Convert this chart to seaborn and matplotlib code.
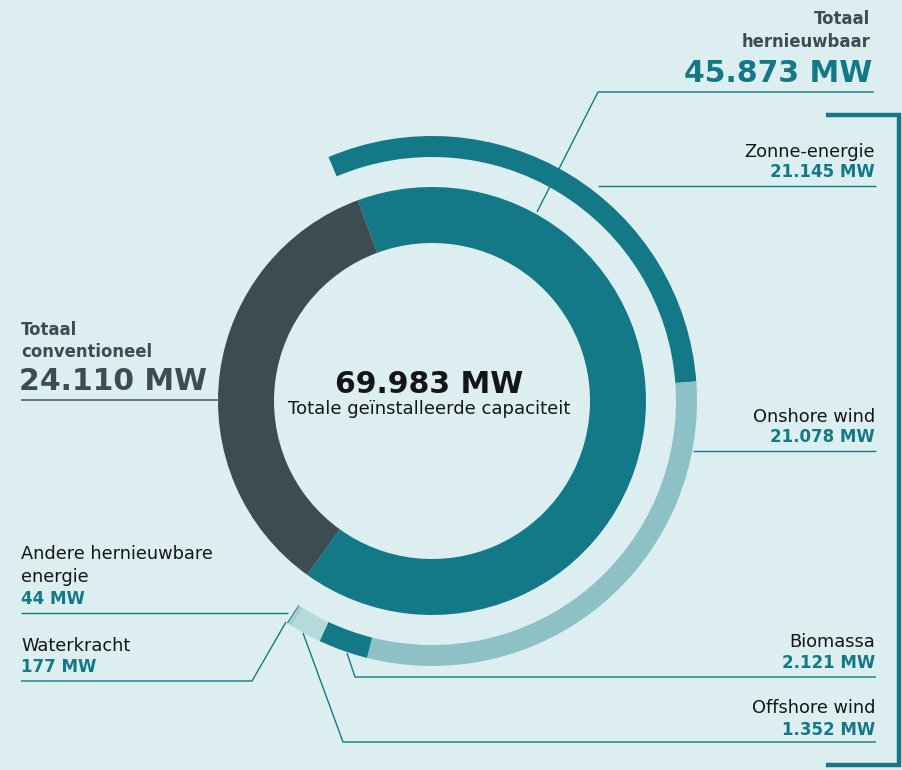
import matplotlib
matplotlib.use("Agg")
import matplotlib.pyplot as plt
import seaborn as sns

# ---------------- data ----------------
inner_categories = ["Totaal hernieuwbaar", "Totaal conventioneel"]
inner_values = [45873, 24110]
total_value = 69983

renewable_sources = ["Zonne-energie", "Onshore wind", "Biomassa",
                     "Offshore wind", "Waterkracht", "Andere hernieuwbare energie"]
renewable_values = [21145, 21078, 2121, 1352, 177, 44]

center_title = "Totale geïnstalleerde capaciteit"

# ---------------- style ----------------
BG = "#ddeef1"
TEAL = "#137986"
GREY = "#3d4b52"
LIGHT = "#8dc1c6"
PALE = "#b4dadc"
WATER = "#a3cfd3"
BLACK = "#151515"

sns.set_theme(style="white", rc={"axes.facecolor": BG, "figure.facecolor": BG})
plt.rcParams["font.family"] = ["DejaVu Sans"]

W, H = 902, 770
fig = plt.figure(figsize=(W / 100, H / 100), dpi=100)
ax = fig.add_axes([0, 0, 1, 1])


def Y(y):
    return H - y


def fmt(v):
    return f"{v:,}".replace(",", ".") + " MW"


CX, CY = 432, 401

# inner donut
inner_colors = sns.color_palette([TEAL, GREY])
ax.pie(inner_values, radius=214, center=(CX, Y(CY)), startangle=110.3,
       counterclock=False, colors=inner_colors,
       wedgeprops=dict(width=56, linewidth=0))

# outer ring (renewables, same angular scale as total)
rest = total_value - sum(renewable_values)
outer_vals = renewable_values + [rest]
outer_colors = [TEAL, LIGHT, TEAL, PALE, WATER, TEAL, (0, 0, 0, 0)]
ax.pie(outer_vals, radius=265, center=(CX, Y(CY)), startangle=113,
       counterclock=False, colors=outer_colors,
       wedgeprops=dict(width=21, linewidth=0))

ax.set_xlim(0, W)
ax.set_ylim(0, H)
ax.set_aspect("equal")
ax.axis("off")

# ---------------- leader lines ----------------
def line(xs, ys, color=TEAL, lw=1.0):
    ax.plot(xs, [Y(v) for v in ys], color=color, lw=lw, solid_capstyle="butt")

line([537, 598, 874], [212, 92, 92])            # totaal hernieuwbaar
line([598, 876], [186, 186])                     # zonne
line([693, 876], [451, 451])                     # onshore
line([347, 355, 876], [653, 677, 677])           # biomassa
line([303, 343, 876], [633, 742, 742])           # offshore
line([21, 288], [613, 613])                      # andere
line([286, 252, 21], [622, 681, 681])            # waterkracht
line([21, 221], [400, 400], color="#4f666e", lw=1.2)  # conventioneel

# bracket on the right
ax.plot([826, 899, 899, 826], [Y(115), Y(115), Y(765), Y(765)],
        color=TEAL, lw=3.2, solid_joinstyle="miter", solid_capstyle="butt")

# ---------------- texts ----------------
RX = 875
LBL = 12.8
VAL = 12.0
TOT = 11.9
BIG = 21.5


def txt(x, y, s, size, color, weight="normal", ha="right"):
    ax.text(x, Y(y), s, fontsize=size, color=color, fontweight=weight,
            ha=ha, va="baseline")


# totaal hernieuwbaar
txt(870, 24, "Totaal", TOT, GREY, "bold")
txt(870, 47, "hernieuwbaar", TOT, GREY, "bold")
txt(872, 82, fmt(inner_values[0]), BIG, TEAL, "bold")

# right side sources
right_pos = {0: (157, 177), 1: (422, 442), 2: (647, 668), 3: (713, 735)}
for i, (yl, yv) in right_pos.items():
    txt(RX, yl, renewable_sources[i], LBL, BLACK)
    txt(RX, yv, fmt(renewable_values[i]), VAL, TEAL, "bold")

# totaal conventioneel
txt(21, 335, "Totaal", TOT, GREY, "bold", ha="left")
txt(21, 357, "conventioneel", TOT, GREY, "bold", ha="left")
txt(19, 390, fmt(inner_values[1]), BIG, GREY, "bold", ha="left")

# left side small sources
txt(21, 559, "Andere hernieuwbare", LBL, BLACK, ha="left")
txt(21, 582, "energie", LBL, BLACK, ha="left")
txt(21, 604, fmt(renewable_values[5]), VAL, TEAL, "bold", ha="left")
txt(21, 651, renewable_sources[4], LBL, BLACK, ha="left")
txt(21, 672, fmt(renewable_values[4]), VAL, TEAL, "bold", ha="left")

# center
txt(429, 393, fmt(total_value), BIG, BLACK, "bold", ha="center")
txt(429, 414, center_title, 13.0, BLACK, ha="center")

fig.savefig("out.png", dpi=100, facecolor=BG)
